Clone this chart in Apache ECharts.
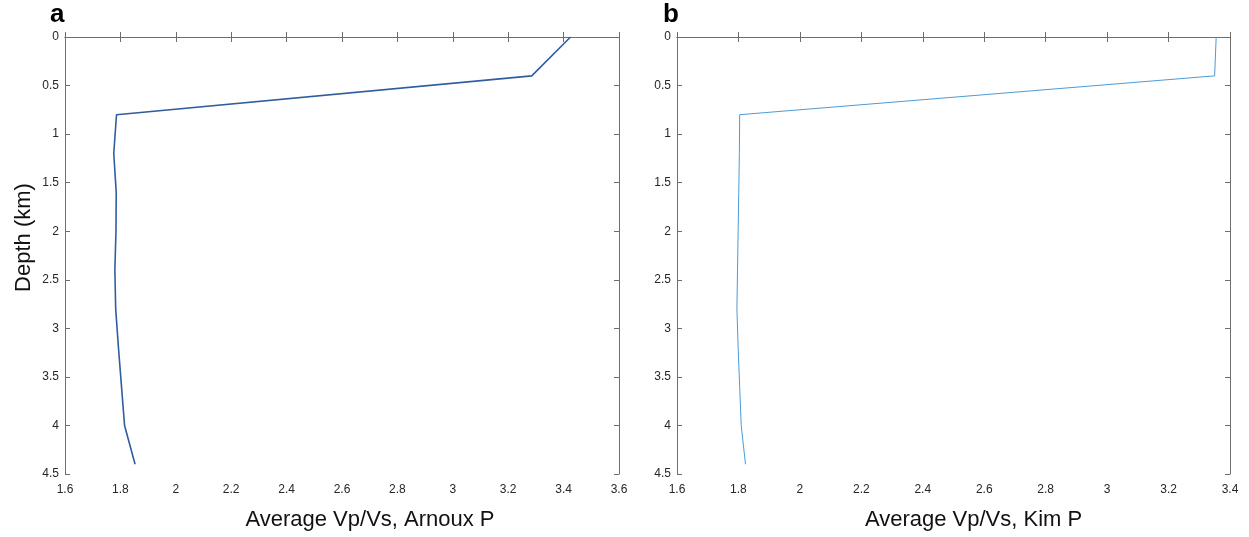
<!DOCTYPE html>
<html>
<head>
<meta charset="utf-8">
<title>Average Vp/Vs profiles</title>
<script src="https://cdn.jsdelivr.net/npm/echarts@6/dist/echarts.min.js"></script>
<style>
  html, body { margin: 0; padding: 0; background: #fff; }
  #chart { width: 1249px; height: 537px; }
</style>
</head>
<body>
<div id="chart"></div>
<script>
// Depth nodes of the layered model (km)
const depthKm = [0, 0.4, 0.8, 1.2, 1.6, 2.0, 2.4, 2.8, 3.2, 3.6, 4.0, 4.4];
// Average Vp/Vs at each depth node
const vpvsArnoux = [3.425, 3.285, 1.786, 1.776, 1.785, 1.784, 1.780, 1.783, 1.793, 1.804, 1.815, 1.853];
const vpvsKim    = [3.355, 3.350, 1.804, 1.803, 1.801, 1.799, 1.797, 1.795, 1.799, 1.804, 1.809, 1.823];
// Axis tick settings
const depthTicks = { min: 0, max: 4.5, interval: 0.5 };
const xTicksA = { min: 1.6, max: 3.6, interval: 0.2 };
const xTicksB = { min: 1.6, max: 3.4, interval: 0.2 };
const panelTitles = ['a', 'b'];
const xTitles = ['Average Vp/Vs, Arnoux P', 'Average Vp/Vs, Kim P'];

const FONT = 'Liberation Sans, Arial, Helvetica, sans-serif';
const AXIS_COLOR = '#6e6e6e';
const LABEL_COLOR = '#262626';

function pairs(xs, ys) { return xs.map((x, i) => [x, ys[i]]); }

function xAxes(gridIndex, ticks, name, nameShift) {
  const common = {
    type: 'value', gridIndex, min: ticks.min, max: ticks.max, interval: ticks.interval,
    axisLine: { show: true, lineStyle: { color: AXIS_COLOR, width: 1 } },
    axisTick: { show: true, inside: true, length: 5, lineStyle: { color: AXIS_COLOR } },
    splitLine: { show: false }
  };
  return [
    Object.assign({}, common, {
      position: 'bottom',
      name, nameLocation: 'middle', nameGap: 35,
      // left padding nudges the title to the right of the axis centre
      nameTextStyle: { fontFamily: FONT, fontSize: 22, color: '#111', padding: [0, 0, 0, nameShift * 2] },
      axisLabel: { show: true, fontFamily: FONT, fontSize: 12, color: LABEL_COLOR, margin: 10,
                   showMinLabel: true, showMaxLabel: true }
    }),
    Object.assign({}, common, { position: 'top', axisLabel: { show: false } })
  ];
}

function yAxes(gridIndex, withName) {
  const common = {
    type: 'value', gridIndex, inverse: true,
    min: depthTicks.min, max: depthTicks.max, interval: depthTicks.interval,
    axisLine: { show: true, lineStyle: { color: AXIS_COLOR, width: 1 } },
    axisTick: { show: true, inside: true, length: 5, lineStyle: { color: AXIS_COLOR } },
    splitLine: { show: false }
  };
  const left = Object.assign({}, common, {
    position: 'left',
    axisLabel: { show: true, fontFamily: FONT, fontSize: 12, color: LABEL_COLOR, margin: 6,
                 showMinLabel: true, showMaxLabel: true }
  });
  if (withName) {
    Object.assign(left, {
      name: 'Depth (km)', nameLocation: 'middle', nameGap: 30, nameRotate: 90,
      nameTextStyle: { fontFamily: FONT, fontSize: 22, color: '#111', padding: [0, 0, 0, 36] }
    });
  }
  return [left, Object.assign({}, common, { position: 'right', axisLabel: { show: false } })];
}

const chart = echarts.init(document.getElementById('chart'), null, { renderer: 'canvas' });
chart.setOption({
  animation: false,
  backgroundColor: '#ffffff',
  title: [
    { text: panelTitles[0], left: 45, top: -3, textStyle: { fontFamily: FONT, fontSize: 26, fontWeight: 'bold', color: '#000' } },
    { text: panelTitles[1], left: 658, top: -3, textStyle: { fontFamily: FONT, fontSize: 26, fontWeight: 'bold', color: '#000' } }
  ],
  grid: [
    { left: 65, right: 630, top: 37, bottom: 63 },
    { left: 677, right: 19, top: 37, bottom: 63 }
  ],
  xAxis: [].concat(xAxes(0, xTicksA, xTitles[0], 28), xAxes(1, xTicksB, xTitles[1], 20)),
  yAxis: [].concat(yAxes(0, true), yAxes(1, false)),
  series: [
    {
      type: 'line', xAxisIndex: 0, yAxisIndex: 0,
      data: pairs(vpvsArnoux, depthKm),
      showSymbol: false, symbol: 'none',
      lineStyle: { color: '#2f5e9e', width: 1.6 }
    },
    {
      type: 'line', xAxisIndex: 2, yAxisIndex: 2,
      data: pairs(vpvsKim, depthKm),
      showSymbol: false, symbol: 'none',
      lineStyle: { color: '#4d9bd6', width: 1 }
    }
  ]
});
</script>
</body>
</html>
